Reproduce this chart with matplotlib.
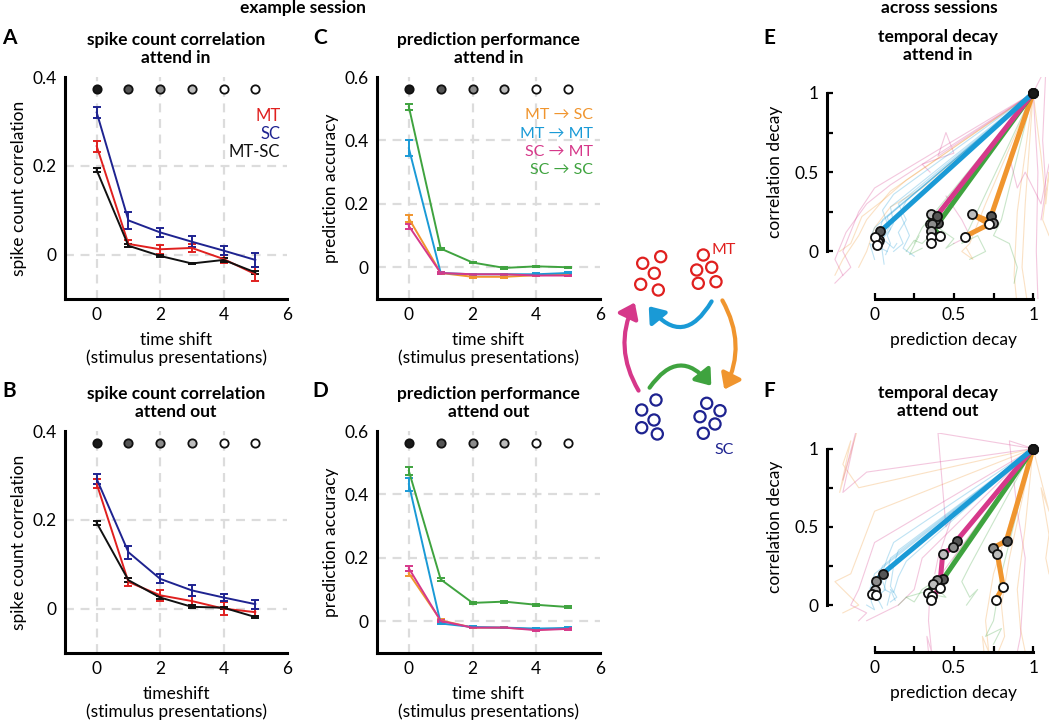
import matplotlib
matplotlib.use("Agg")
import matplotlib.pyplot as plt
from matplotlib.patches import Circle, FancyArrowPatch

plt.rcParams['font.family'] = ['Lato', 'DejaVu Sans']
plt.rcParams['font.size'] = 12

# colours
C_MT = '#e0201f'
C_SC = '#1e2390'
C_BLUE = '#1a9ad6'
C_ORANGE = '#f0952e'
C_MAG = '#d6388a'
C_GREEN = '#3fa33f'
DOT_FACES = ['#1a1a1a', '#555555', '#8c8c8c', '#bdbdbd', '#ffffff', '#ffffff']

shifts = [0, 1, 2, 3, 4, 5]

# A: spike count correlation, attend in
a_mt = [0.244, 0.024, 0.012, 0.015, -0.010, -0.044]
a_mt_err = [0.012, 0.008, 0.010, 0.010, 0.010, 0.015]
a_sc = [0.320, 0.077, 0.050, 0.029, 0.009, -0.012]
a_sc_err = [0.012, 0.020, 0.010, 0.012, 0.010, 0.015]
a_mtsc = [0.190, 0.020, -0.003, -0.020, -0.012, -0.040]
a_mtsc_err = [0.005, 0.004, 0.002, 0.002, 0.004, 0.003]

# B: spike count correlation, attend out
b_mt = [0.281, 0.060, 0.030, 0.017, 0.000, -0.008]
b_mt_err = [0.010, 0.010, 0.012, 0.012, 0.015, 0.008]
b_sc = [0.292, 0.127, 0.067, 0.041, 0.025, 0.010]
b_sc_err = [0.011, 0.015, 0.010, 0.012, 0.007, 0.010]
b_mtsc = [0.193, 0.064, 0.025, 0.004, 0.002, -0.019]
b_mtsc_err = [0.005, 0.004, 0.004, 0.003, 0.002, 0.002]

# C: prediction performance, attend in
c_mtsc = [0.154, -0.018, -0.030, -0.030, -0.025, -0.023]
c_mtsc_err = [0.010, 0.002, 0.003, 0.003, 0.003, 0.003]
c_mtmt = [0.375, -0.018, -0.022, -0.022, -0.022, -0.018]
c_mtmt_err = [0.025, 0.002, 0.002, 0.002, 0.003, 0.003]
c_scmt = [0.130, -0.018, -0.022, -0.022, -0.026, -0.026]
c_scmt_err = [0.008, 0.002, 0.002, 0.002, 0.002, 0.002]
c_scsc = [0.506, 0.059, 0.015, -0.002, 0.003, 0.000]
c_scsc_err = [0.010, 0.003, 0.003, 0.002, 0.002, 0.002]

# D: prediction performance, attend out
d_mtsc = [0.151, 0.003, -0.020, -0.020, -0.026, -0.023]
d_mtsc_err = [0.008, 0.003, 0.002, 0.002, 0.002, 0.002]
d_mtmt = [0.432, -0.007, -0.018, -0.020, -0.023, -0.021]
d_mtmt_err = [0.020, 0.002, 0.002, 0.002, 0.003, 0.002]
d_scmt = [0.167, 0.001, -0.020, -0.020, -0.028, -0.024]
d_scmt_err = [0.008, 0.002, 0.002, 0.002, 0.002, 0.002]
d_scsc = [0.474, 0.132, 0.058, 0.062, 0.052, 0.045]
d_scsc_err = [0.012, 0.005, 0.004, 0.003, 0.003, 0.003]

# E: temporal decay, attend in (prediction decay x, correlation decay y), shifts 0..5
e_mtmt_x = [1, 0.036, 0.025, 0.020, 0.000, 0.015]
e_mtmt_y = [1, 0.126, 0.073, 0.060, 0.094, 0.042]
e_mtsc_x = [1, 0.735, 0.748, 0.612, 0.723, 0.570]
e_mtsc_y = [1, 0.224, 0.182, 0.236, 0.172, 0.094]
e_scmt_x = [1, 0.392, 0.360, 0.354, 0.354, 0.354]
e_scmt_y = [1, 0.224, 0.172, 0.126, 0.094, 0.052]
e_scsc_x = [1, 0.402, 0.380, 0.354, 0.350, 0.413]
e_scsc_y = [1, 0.178, 0.200, 0.236, 0.170, 0.100]

# F: temporal decay, attend out
f_mtmt_x = [1, 0.050, 0.008, 0.000, -0.015, 0.006]
f_mtmt_y = [1, 0.200, 0.155, 0.095, 0.070, 0.063]
f_mtsc_x = [1, 0.832, 0.748, 0.774, 0.811, 0.763]
f_mtsc_y = [1, 0.412, 0.366, 0.328, 0.116, 0.032]
f_scmt_x = [1, 0.518, 0.497, 0.430, 0.410, 0.356]
f_scmt_y = [1, 0.412, 0.370, 0.328, 0.112, 0.032]
f_scsc_x = [1, 0.434, 0.392, 0.367, 0.340, 0.360]
f_scsc_y = [1, 0.169, 0.163, 0.133, 0.080, 0.060]

# single sessions (thin lines)
e_thin_mtmt = [
    [(1, 1), (0.05, 0.20), (0.03, 0.12), (0.06, 0.05), (0.02, 0.03), (0.08, 0.00)],
    [(1, 1), (0.10, 0.28), (0.12, 0.18), (0.08, 0.10), (0.10, 0.05), (0.07, -0.02)],
    [(1, 1), (0.00, 0.15), (-0.02, 0.10), (0.01, 0.02), (-0.03, 0.05), (0.00, -0.05)],
    [(1, 1), (0.15, 0.30), (0.20, 0.20), (0.15, 0.12), (0.18, 0.05), (0.12, 0.00)],
    [(1, 1), (0.08, 0.22), (0.10, 0.14), (0.05, 0.08), (0.12, 0.02), (0.14, 0.05)],
    [(1, 1), (0.20, 0.32), (0.16, 0.24), (0.22, 0.10), (0.18, 0.02), (0.25, -0.03)],
    [(1, 1), (0.12, 0.36), (0.05, 0.26), (0.09, 0.15), (0.04, 0.06), (0.06, -0.08)],
]
e_thin_mtsc = [
    [(1, 1), (0.10, 0.38), (-0.05, 0.20), (-0.10, 0.10), (-0.20, -0.05), (-0.25, -0.15)],
    [(1, 1), (0.95, 0.30), (0.93, -0.10), (0.96, -0.30), (0.97, -0.35), (0.98, -0.40)],
    [(1, 1), (0.70, 0.30), (0.60, 0.05), (0.55, 0.00), (0.62, -0.05), (0.58, 0.02)],
    [(1, 1), (1.05, 0.60), (1.08, 0.30), (1.10, 0.50), (1.06, 0.20), (1.10, 0.10)],
    [(1, 1), (0.30, 0.40), (0.10, 0.28), (0.00, 0.15), (-0.05, 0.00), (-0.10, -0.10)],
    [(1, 1), (0.90, 0.25), (0.88, -0.15), (0.90, -0.35), (0.92, -0.30), (0.91, -0.40)],
    [(1, 1), (0.20, 0.45), (0.05, 0.32), (-0.08, 0.22), (-0.15, 0.05), (-0.22, 0.00)],
]
e_thin_scmt = [
    [(1, 1), (0.00, 0.40), (-0.10, 0.25), (-0.20, 0.00), (-0.15, -0.10), (-0.25, -0.20)],
    [(1, 1), (1.03, 0.50), (1.02, 0.00), (1.03, -0.30), (1.04, -0.40), (1.02, -0.50)],
    [(1, 1), (0.40, 0.60), (0.45, 0.75), (0.50, 0.62), (0.30, 0.55), (0.35, 0.50)],
    [(1, 1), (0.50, 0.30), (0.45, 0.35), (0.55, 0.20), (0.60, 0.10), (0.50, 0.05)],
    [(1, 1), (0.85, 0.60), (0.90, 0.40), (0.95, 0.50), (1.05, 0.30), (1.10, 0.55)],
    [(1, 1), (1.05, 1.10), (1.08, 1.15), (1.06, 0.70), (1.08, 0.40), (1.05, 0.20)],
    [(1, 1), (0.10, 0.42), (-0.05, 0.30), (-0.18, 0.12), (-0.25, -0.05), (-0.20, -0.15)],
]
e_thin_scsc = [
    [(1, 1), (0.40, 0.20), (0.35, 0.10), (0.30, 0.05), (0.25, 0.07), (0.20, 0.00)],
    [(1, 1), (0.60, 0.15), (0.55, 0.05), (0.65, 0.10), (0.70, 0.00), (0.60, -0.05)],
    [(1, 1), (0.45, 0.25), (0.40, 0.15), (0.50, 0.08), (0.45, 0.02), (0.50, 0.05)],
    [(1, 1), (0.80, 0.20), (0.75, 0.10), (0.85, 0.05), (0.90, -0.10), (0.88, -0.20)],
    [(1, 1), (0.30, 0.15), (0.25, 0.05), (0.28, 0.10), (0.22, -0.02), (0.30, 0.02)],
]
f_thin_mtmt = [
    [(1, 1), (0.05, 0.25), (0.02, 0.15), (0.00, 0.05), (0.03, 0.02), (0.05, -0.02)],
    [(1, 1), (0.10, 0.30), (0.08, 0.20), (0.06, 0.10), (0.10, 0.08), (0.08, 0.00)],
    [(1, 1), (0.15, 0.35), (0.12, 0.25), (0.10, 0.12), (0.14, 0.05), (0.10, 0.02)],
    [(1, 1), (0.00, 0.20), (-0.03, 0.10), (-0.02, 0.02), (0.00, -0.03), (-0.05, 0.00)],
    [(1, 1), (0.20, 0.28), (0.15, 0.18), (0.12, 0.08), (0.10, 0.10), (0.13, 0.03)],
    [(1, 1), (0.12, 0.40), (0.08, 0.30), (0.04, 0.18), (0.07, 0.10), (0.02, 0.06)],
]
f_thin_mtsc = [
    [(1, 1), (0.00, 0.60), (-0.15, 0.20), (-0.25, 0.15), (-0.10, 0.00), (-0.20, -0.05)],
    [(1, 1), (0.85, 0.30), (0.80, 0.00), (0.82, -0.20), (0.78, -0.30), (0.80, -0.40)],
    [(1, 1), (0.95, 0.50), (0.90, 0.10), (0.92, -0.15), (0.95, -0.30), (0.93, -0.40)],
    [(1, 1), (-0.10, 0.75), (-0.20, 0.90), (-0.15, 1.05), (-0.22, 0.72), (-0.10, 1.15)],
    [(1, 1), (1.10, 0.60), (1.05, 0.75), (1.10, 0.45), (1.08, 0.30), (1.10, 0.20)],
    [(1, 1), (0.75, 0.20), (0.70, -0.10), (0.72, -0.30), (0.68, -0.20), (0.70, -0.40)],
]
f_thin_scmt = [
    [(1, 1), (0.00, 0.40), (-0.10, 0.10), (-0.15, 0.00), (-0.05, -0.05), (-0.10, -0.10)],
    [(1, 1), (0.40, 1.10), (0.45, 0.50), (0.50, 0.60), (0.40, 0.30), (0.38, 0.20)],
    [(1, 1), (0.85, 1.05), (0.90, 0.60), (0.95, 0.30), (0.92, -0.20), (0.90, -0.30)],
    [(1, 1), (-0.05, 0.85), (-0.20, 0.72), (-0.15, 0.95), (-0.12, 1.10), (-0.20, 0.80)],
    [(1, 1), (0.30, 0.30), (0.25, 0.10), (0.15, 0.00), (0.05, -0.05), (-0.05, -0.10)],
    [(1, 1), (0.35, 0.10), (0.34, -0.10), (0.36, -0.30), (0.33, -0.20), (0.35, -0.40)],
]
f_thin_scsc = [
    [(1, 1), (0.50, 0.30), (0.40, 0.10), (0.45, 0.05), (0.30, 0.08), (0.20, 0.05)],
    [(1, 1), (0.60, 0.25), (0.55, 0.15), (0.60, 0.05), (0.65, 0.10), (0.58, 0.00)],
    [(1, 1), (0.80, 0.20), (0.75, -0.10), (0.70, -0.20), (0.80, -0.15), (0.75, -0.25)],
    [(1, 1), (0.45, 0.20), (0.30, 0.10), (0.25, 0.02), (0.20, 0.05), (0.15, 0.00)],
]


def px_axes(fig, left, top, right, bottom):
    W, H = 1050, 721
    return fig.add_axes([left / W, 1 - bottom / H, (right - left) / W, (bottom - top) / H])


def style_time_ax(ax, ylim, yticks, ylabel, xlabel):
    ax.set_xlim(-1, 6)
    ax.set_ylim(*ylim)
    ax.set_xticks([0, 2, 4, 6])
    ax.set_yticks(yticks)
    ax.set_yticklabels([('%g' % t) for t in yticks])
    for s in ['top', 'right']:
        ax.spines[s].set_visible(False)
    for s in ['left', 'bottom']:
        ax.spines[s].set_linewidth(2.2)
    ax.tick_params(length=0, labelsize=12.5, pad=6)
    for x in [0, 2, 4]:
        ax.axvline(x, color='#dcdcdc', lw=1.6, ls=(0, (4, 3)), zorder=0)
    for y in yticks:
        if y < ylim[1] - 1e-9:
            ax.axhline(y, color='#dcdcdc', lw=1.6, ls=(0, (4, 3)), zorder=0)
    ax.set_ylabel(ylabel, fontsize=12.5, labelpad=4)
    ax.set_xlabel(xlabel, fontsize=12.5, labelpad=6, linespacing=1.15)
    # significance dots
    yd = ylim[1] - 0.055 * (ylim[1] - ylim[0])
    for x, fc in zip(shifts, DOT_FACES):
        ax.plot(x, yd, 'o', ms=6, mfc=fc, mec='#111111', mew=1.3, zorder=5)


def err_line(ax, y, e, color):
    ax.errorbar(shifts, y, yerr=e, color=color, lw=1.4, elinewidth=1.4,
                capsize=3, capthick=1.4, zorder=3)


fig = plt.figure(figsize=(10.5, 7.21), dpi=100)

# ---- A and B
for (top, bottom, mt, mte, sc, sce, ms, mse, title, xl) in [
        (77, 299, a_mt, a_mt_err, a_sc, a_sc_err, a_mtsc, a_mtsc_err,
         'spike count correlation\nattend in', 'time shift\n(stimulus presentations)'),
        (431, 653, b_mt, b_mt_err, b_sc, b_sc_err, b_mtsc, b_mtsc_err,
         'spike count correlation\nattend out', 'timeshift\n(stimulus presentations)')]:
    ax = px_axes(fig, 65, top, 287, bottom)
    style_time_ax(ax, (-0.1, 0.4), [0, 0.2, 0.4], 'spike count correlation', xl)
    err_line(ax, mt, mte, C_MT)
    err_line(ax, sc, sce, C_SC)
    err_line(ax, ms, mse, '#111111')
    ax.set_title(title, fontsize=12.5, fontweight='bold', pad=10, linespacing=1.2)
    if top == 77:
        ax.text(0.97, 0.80, 'MT', color=C_MT, transform=ax.transAxes, ha='right', fontsize=12)
        ax.text(0.97, 0.72, 'SC', color=C_SC, transform=ax.transAxes, ha='right', fontsize=12)
        ax.text(0.97, 0.64, 'MT-SC', color='#111111', transform=ax.transAxes, ha='right', fontsize=12)

# ---- C and D
for (top, bottom, ys, title) in [
        (77, 299, [(c_mtsc, c_mtsc_err, C_ORANGE), (c_mtmt, c_mtmt_err, C_BLUE),
                   (c_scmt, c_scmt_err, C_MAG), (c_scsc, c_scsc_err, C_GREEN)],
         'prediction performance\nattend in'),
        (431, 653, [(d_mtsc, d_mtsc_err, C_ORANGE), (d_mtmt, d_mtmt_err, C_BLUE),
                    (d_scmt, d_scmt_err, C_MAG), (d_scsc, d_scsc_err, C_GREEN)],
         'prediction performance\nattend out')]:
    ax = px_axes(fig, 377, top, 600, bottom)
    style_time_ax(ax, (-0.1, 0.6), [0, 0.2, 0.4, 0.6], 'prediction accuracy',
                  'time shift\n(stimulus presentations)')
    for y, e, c in ys:
        err_line(ax, y, e, c)
    ax.set_title(title, fontsize=12.5, fontweight='bold', pad=10, linespacing=1.2)
    if top == 77:
        for i, (lab, c) in enumerate([('MT \u2192 SC', C_ORANGE), ('MT \u2192 MT', C_BLUE),
                                      ('SC \u2192 MT', C_MAG), ('SC \u2192 SC', C_GREEN)]):
            ax.text(0.97, 0.81 - i * 0.083, lab, color=c, transform=ax.transAxes,
                    ha='right', fontsize=11.5)

# ---- E and F
for (top, bottom, thick, thin, title) in [
        (77, 299,
         [(e_mtsc_x, e_mtsc_y, C_ORANGE), (e_scsc_x, e_scsc_y, C_GREEN),
          (e_scmt_x, e_scmt_y, C_MAG), (e_mtmt_x, e_mtmt_y, C_BLUE)],
         [(e_thin_mtsc, C_ORANGE), (e_thin_scmt, C_MAG), (e_thin_scsc, C_GREEN), (e_thin_mtmt, C_BLUE)],
         'temporal decay\nattend in'),
        (433, 652,
         [(f_mtsc_x, f_mtsc_y, C_ORANGE), (f_scsc_x, f_scsc_y, C_GREEN),
          (f_scmt_x, f_scmt_y, C_MAG), (f_mtmt_x, f_mtmt_y, C_BLUE)],
         [(f_thin_mtsc, C_ORANGE), (f_thin_scmt, C_MAG), (f_thin_scsc, C_GREEN), (f_thin_mtmt, C_BLUE)],
         'temporal decay\nattend out')]:
    ax = px_axes(fig, 827, top, 1049, bottom)
    ax.set_xlim(-0.3, 1.1)
    ax.set_ylim(-0.3, 1.1)
    for sessions, c in thin:
        for sess in sessions:
            ax.plot([p[0] for p in sess], [p[1] for p in sess], color=c, lw=0.8, alpha=0.28, zorder=1)
    for xs, ys, c in thick:
        ax.plot(xs, ys, color=c, lw=3.6, solid_capstyle='round', zorder=3)
    for xs, ys, c in thick:
        for x, y, fc in zip(xs, ys, DOT_FACES):
            ax.plot(x, y, 'o', ms=6.5, mfc=fc, mec='#111111', mew=1.3, zorder=6)
    for s in ['top', 'right']:
        ax.spines[s].set_visible(False)
    for s in ['left', 'bottom']:
        ax.spines[s].set_linewidth(2.2)
        ax.spines[s].set_bounds(0, 1)
    ax.spines['left'].set_position(('data', -0.3))
    ax.set_xticks([0, 0.5, 1])
    ax.set_xticklabels(['0', '0.5', '1'])
    ax.set_yticks([0, 0.5, 1])
    ax.set_yticklabels(['0', '0.5', '1'])
    ax.set_xticks([0.25, 0.75], minor=True)
    ax.set_yticks([0.25, 0.75], minor=True)
    ax.tick_params(which='both', direction='in', length=4, width=1.6, labelsize=12.5, pad=6)
    ax.set_xlabel('prediction decay', fontsize=12.5)
    ax.set_ylabel('correlation decay', fontsize=12.5)
    ax.xaxis.set_label_coords(0.8 / 1.4, -0.15)
    ax.yaxis.set_label_coords(-0.2, 0.8 / 1.4)
    ax.set_title(title, fontsize=12.5, fontweight='bold', pad=12, linespacing=1.2)

# ---- circuit diagram
dax = px_axes(fig, 610, 240, 760, 470)
dax.set_xlim(610, 760)
dax.set_ylim(470, 240)
dax.axis('off')
mt_left = [(642.7, 263.3), (660.7, 256.7), (654.3, 273.3), (640.7, 284.3), (658.3, 290)]
mt_right = [(703.3, 255), (696.7, 270), (711.7, 267.3), (698.3, 283.3), (716, 281.7)]
sc_left = [(656, 400), (641.7, 410), (654, 420), (641.7, 427.7), (657.3, 434)]
sc_right = [(706.7, 403.3), (720, 410.7), (700, 416.7), (715, 424), (703.3, 433.3)]
for pts, c in [(mt_left, C_MT), (mt_right, C_MT), (sc_left, C_SC), (sc_right, C_SC)]:
    for (x, y) in pts:
        dax.add_patch(Circle((x, y), 5.6, fill=False, ec=c, lw=1.6))
dax.text(724, 250, 'MT', color=C_MT, fontsize=11.5, ha='center', va='center')
dax.text(724, 450, 'SC', color=C_SC, fontsize=11.5, ha='center', va='center')
arrows = [((713, 299), (647, 304), -0.75, C_BLUE),
          ((721, 298), (723, 392), -0.28, C_ORANGE),
          ((640, 393), (636, 300), -0.28, C_MAG),
          ((648, 390), (713, 388), -0.7, C_GREEN)]
for p0, p1, rad, c in arrows:
    dax.add_patch(FancyArrowPatch(p0, p1, connectionstyle='arc3,rad=%g' % rad,
                                  arrowstyle='-|>,head_length=3.5,head_width=2.6',
                                  color=c, lw=3.0, mutation_scale=2.5))

# ---- headers and panel letters
fig.text(303 / 1050, 1 - 8 / 721, 'example session', fontsize=12.5, fontweight='bold', ha='center', va='center')
fig.text(939 / 1050, 1 - 8 / 721, 'across sessions', fontsize=12.5, fontweight='bold', ha='center', va='center')
for lab, x, y in [('A', 9, 38), ('B', 9, 391), ('C', 320, 38), ('D', 320, 391), ('E', 769, 38), ('F', 769, 391)]:
    fig.text(x / 1050, 1 - y / 721, lab, fontsize=15, fontweight='bold', ha='center', va='center')

fig.savefig('out.png', dpi=100)
